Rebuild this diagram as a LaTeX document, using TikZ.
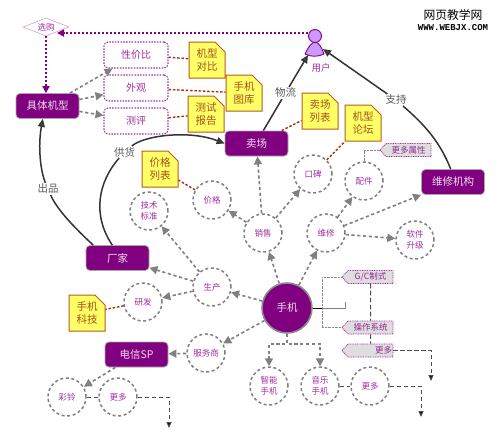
\documentclass[tikz,border=0pt]{standalone}
\usepackage{fontspec}
\setmainfont{Noto Sans CJK SC}
\newfontfamily\markfont{Liberation Mono}
\usepackage{xcolor}
\definecolor{hubpurple}{HTML}{800080}
\definecolor{textpurple}{HTML}{A030A0}
\definecolor{userlilac}{HTML}{CC99FF}
\definecolor{noteyellow}{HTML}{FFFF66}
\definecolor{notebrown}{HTML}{B85A1E}
\definecolor{linkred}{HTML}{A83000}
\definecolor{taggray}{HTML}{DEDEDE}
\usetikzlibrary{arrows.meta, shapes.geometric, shapes.misc, shapes.symbols}
\tikzset{
  hubbox/.style={rectangle, rounded corners=4pt, fill=hubpurple, draw=black!35, line width=0.8pt,
    minimum width=63pt, minimum height=25pt, inner sep=0pt, text=white!88!hubpurple,
    font=\fontsize{10.5}{12}\selectfont},
  aspectbox/.style={rectangle, rounded corners=4pt, fill=white, draw=textpurple, line width=1.1pt,
    dash pattern=on 1.5pt off 1.3pt, minimum width=64pt, minimum height=26pt, inner sep=0pt,
    text=textpurple, font=\fontsize{10}{12}\selectfont},
  notebox/.style={chamfered rectangle, chamfered rectangle corners=north east,
    chamfered rectangle xsep=5pt, chamfered rectangle ysep=5pt, fill=noteyellow, draw=notebrown,
    line width=1pt, minimum width=36pt, minimum height=36pt, inner sep=0pt, align=center,
    text=notebrown!90!black, font=\fontsize{10.5}{13}\selectfont},
  topiccirc/.style={circle, draw=black!50, line width=1.5pt, dash pattern=on 3pt off 2.6pt,
    fill=white, minimum size=38pt, inner sep=0pt, align=center, text=textpurple,
    font=\fontsize{8.5}{11}\selectfont},
  tagbox/.style={signal, signal to=west, signal pointer angle=95, fill=taggray, draw=textpurple,
    line width=0.8pt, dash pattern=on 0.9pt off 0.8pt, minimum width=51pt, minimum height=13pt,
    inner sep=0pt, text=hubpurple!85!white, font=\fontsize{8.5}{10}\selectfont},
  linklabel/.style={inner sep=1pt, text=black!65, font=\fontsize{10.5}{12}\selectfont},
  flowline/.style={black!80, line width=1.5pt, -{Triangle[length=8pt,width=7pt,fill=black!70]}},
  topicline/.style={black!50, line width=1.6pt, dash pattern=on 3.2pt off 2.6pt,
    -{Triangle[length=8pt,width=8pt,fill=black!50]}},
  noteline/.style={linkred, line width=1.4pt, dash pattern=on 2.5pt off 1.8pt},
  buyline/.style={hubpurple, line width=1.8pt, dash pattern=on 2pt off 2pt,
    -{Triangle[length=7pt,width=7pt]}},
  moreline/.style={black!70, line width=1pt, dash pattern=on 4.5pt off 2.5pt,
    -{Triangle[length=6pt,width=5pt,fill=black]}},
  bracketline/.style={black!45, line width=0.9pt, dash pattern=on 0.8pt off 0.6pt}
}
\begin{document}
\begin{tikzpicture}[x=1pt, y=-1pt]
  \useasboundingbox (0,0) rectangle (500,445);
  % watermark
  \node[inner sep=0pt, font=\fontsize{11.8}{13}\selectfont] (markcn) at (453,15) {网页教学网};
  \node[inner sep=0pt, font=\markfont\bfseries\fontsize{9}{10}\selectfont] (markweb) at (453,28) {WWW.WEBJX.COM};
  % solid boxes
  \node[hubbox] (jutijixing) at (47.5,106) {具体机型};
  \node[hubbox] (maichang) at (256.5,143.5) {卖场};
  \node[hubbox] (weixiujigou) at (453,182) {维修机构};
  \node[hubbox] (changjia) at (117.5,258) {厂家};
  \node[hubbox] (dianxin) at (136.5,354.5) {电信SP};
  \node[diamond, aspect=2.5, draw=textpurple!60, fill=white, inner sep=0pt, minimum width=46pt,
    minimum height=18pt, text=textpurple, font=\fontsize{8.5}{10}\selectfont] (xuangou) at (46,27) {选购};
  \foreach \name/\x/\y/\txt in {xingjiabi/136/55/性价比, waiguan/136/88/外观, ceping/136/121/测评}{
    \node[aspectbox] (\name) at (\x,\y) {\txt};
  }
  % dashed topics
  \foreach \name/\x/\y/\txt in {kuobei/313/174/口碑, peijian/364/181/配件, jiage/212/200/价格,
      jishu/149/211/技术\\标准, xiaoshou/263/233/销售, weixiu/326/233/维修, ruanjian/415/240/软件\\升级,
      shengchan/212/287/生产, yanfa/143/302/研发, fuwushang/206/353/服务商, cailing/67/397/彩铃,
      gengduoa/118/397/更多, zhineng/269/386/智能\\手机, yinyue/320/386/音乐\\手机, gengduob/370/386/更多}{
    \node[topiccirc] (\name) at (\x,\y) {\txt};
  }
  \node[circle, fill=hubpurple, draw=black!45, line width=1.6pt, minimum size=50pt, inner sep=0pt,
    text=white!88!hubpurple, font=\fontsize{10.5}{12}\selectfont] (shouji) at (287,308) {手机};
  % notes
  \foreach \name/\x/\y/\txt in {duibi/207/60/机型\\对比, tuku/244/93/手机\\图库, baogao/206/114/测试\\报告,
      liebiao/320/111/卖场\\列表, luntan/363/123/机型\\论坛, jiagebiao/160/169/价格\\列表, keji/87/313/手机\\科技}{
    \node[notebox] (\name) at (\x,\y) {\txt};
  }
  % tags
  \node[tagbox] (shuxing) at (408.5,150) {更多属性};
  \node[tagbox] (zhishi) at (370.5,277) {G/C制式};
  \node[tagbox] (xitong) at (370.5,327.5) {操作系统};
  \node[tagbox] (gengduoc) at (370.5,350.5) {\hspace*{26pt}更多};
  % user
  \coordinate (userleft) at (308,55);
  \coordinate (userright) at (323,49);
  \coordinate (buystart) at (308,33);
  \coordinate (buyend) at (57,33);
  \draw[hubpurple, fill=userlilac, line width=0.9pt] (305,54) .. controls (309,46) and (311,43) .. (315,42)
    .. controls (319,43) and (321,46) .. (324,54) .. controls (318,57) and (311,57) .. (305,54);
  \node[circle, draw=hubpurple, fill=userlilac, line width=0.9pt, minimum size=13pt, inner sep=0pt] (yonghu) at (315,36) {};
  \node[text=textpurple, inner sep=0pt, font=\fontsize{9.5}{11}\selectfont] (yonghutext) at (321,68) {用户};
  % link labels
  \node[linklabel] (chupin) at (48,189) {出品};
  \node[linklabel] (gonghuo) at (124.5,152) {供货};
  \node[linklabel] (wuliu) at (285.5,93) {物流};
  \node[linklabel] (zhichi) at (396,100) {支持};
  % main curves
  \draw[flowline, -] (changjia.152) .. controls (66,220) and (55,205) .. (chupin);
  \draw[flowline] (chupin) .. controls (40,170) and (38,145) .. (jutijixing.250);
  \draw[flowline, -] (changjia.112) .. controls (92,215) and (98,182) .. (gonghuo);
  \draw[flowline] (gonghuo) .. controls (145,135) and (190,130) .. (maichang.west);
  \draw[flowline, -] (maichang.62) -- (wuliu);
  \draw[flowline] (wuliu) -- (userleft);
  \draw[flowline, -] (weixiujigou.100) .. controls (440,142) and (425,125) .. (zhichi);
  \draw[flowline] (zhichi) -- (userright);
  \draw[buyline] (buystart) -- (buyend);
  \draw[buyline] (xuangou.south) -- (xuangou.south |- jutijixing.north);
  % gray links
  \foreach \from/\to in {jutijixing/xingjiabi, jutijixing/waiguan, jutijixing/ceping, xiaoshou/maichang,
      xiaoshou/jiage, xiaoshou/kuobei, weixiu/peijian, weixiu/weixiujigou, weixiu/ruanjian, shouji/xiaoshou,
      shouji/weixiu, shouji/shengchan, shouji/fuwushang, shengchan/jishu, shengchan/changjia, shengchan/yanfa,
      fuwushang/dianxin, dianxin/cailing}{
    \draw[topicline] (\from) -- (\to);
  }
  \draw[topicline] (shouji.south) -- ++(0,10) -| (zhineng.north);
  \draw[topicline] (shouji.south) -- ++(0,10) -| (yinyue.north);
  % note links
  \foreach \from/\to in {xingjiabi/duibi, waiguan/tuku, ceping/baogao, maichang/liebiao, kuobei/luntan,
      jiage/jiagebiao, yanfa/keji}{
    \draw[noteline] (\from) -- (\to);
  }
  % tag brackets
  \coordinate (bracket) at (322,308);
  \coordinate (stubend) at (345,308);
  \coordinate (stubtop) at (345,302);
  \draw[black, line width=1pt] (shouji.east) -- (bracket);
  \draw[black!50, line width=0.9pt] (bracket) -- (stubend) -- (stubtop);
  \draw[bracketline] (zhishi.west) -| (bracket) |- (xitong.west);
  \draw[bracketline] (peijian.north) |- (shuxing.west);
  % more links
  \coordinate (morea) at (169,428);
  \coordinate (moreb) at (421,417);
  \coordinate (morec) at (431,381);
  \draw[moreline, -] (zhishi) -- (xitong);
  \draw[moreline, -] (xitong) -- (gengduoc);
  \draw[moreline] (gengduoc.east) -| (morec);
  \draw[moreline, -] (cailing) -- (gengduoa);
  \draw[moreline] (gengduoa.east) -| (morea);
  \draw[moreline, -] (yinyue) -- (gengduob);
  \draw[moreline] (gengduob.east) -| (moreb);
\end{tikzpicture}
\end{document}
